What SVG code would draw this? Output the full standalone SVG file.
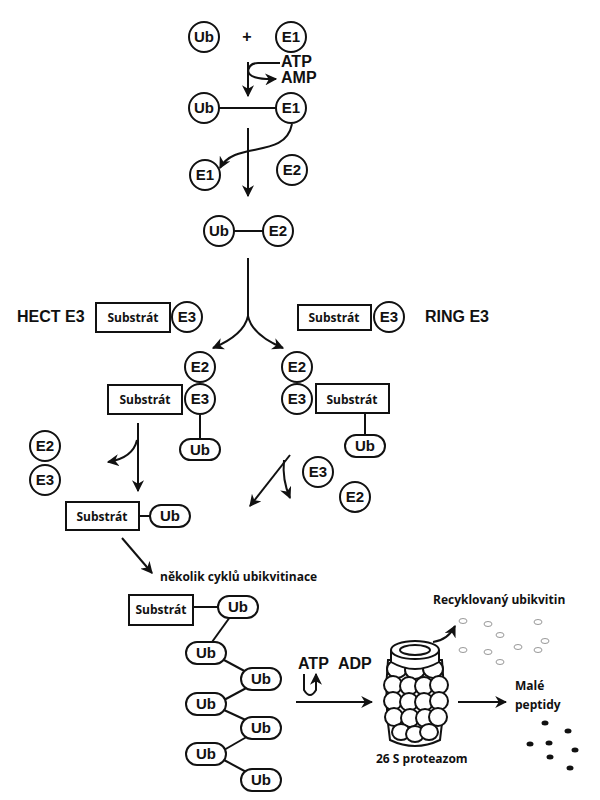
<svg xmlns="http://www.w3.org/2000/svg" width="600" height="800" viewBox="0 0 600 800">
<defs>
<marker id="ah" viewBox="0 0 10 10" refX="9" refY="5" markerWidth="6" markerHeight="6" orient="auto"><path d="M0,0 L10,5 L0,10 L3,5 Z" fill="#111"/></marker>
<style>
.c{fill:#fff;stroke:#111;stroke-width:2}
.l{fill:none;stroke:#111;stroke-width:2}
.a{fill:none;stroke:#111;stroke-width:2;marker-end:url(#ah)}
.t{font-family:"Liberation Sans",Arial,sans-serif;font-weight:bold;font-size:15px;fill:#111;text-anchor:middle}
.s{font-family:"Open Sans","Liberation Sans",sans-serif;font-weight:bold;font-size:12px;fill:#111;text-anchor:middle}
.big{font-family:"Liberation Sans",Arial,sans-serif;font-weight:bold;font-size:16px;fill:#111}
.o{font-family:"Open Sans","Liberation Sans",sans-serif;font-weight:bold;font-size:12px;fill:#111}
.e{fill:#fff;stroke:#999;stroke-width:1}
.d{fill:#111}
</style>
</defs>
<g id="connectors">
<line class="a" x1="248" y1="62" x2="248" y2="96"/>
<path class="l" d="M280,63 H258 Q248,63 248,73"/>
<path class="a" d="M248,70 Q248,80 276,79"/>
<line class="l" x1="219" y1="108" x2="276" y2="108"/>
<line class="a" x1="248" y1="128" x2="248" y2="196"/>
<path class="a" d="M292,124 C285,160 235,140 220,168"/>
<line class="l" x1="234" y1="231" x2="263" y2="231"/>
<path class="l" d="M248,258 V316"/>
<path class="a" d="M248,316 Q244,335 213,348"/>
<path class="a" d="M248,316 Q252,335 283,348"/>
<line class="l" x1="200" y1="415" x2="200" y2="439"/>
<line class="l" x1="365" y1="413" x2="365" y2="435"/>
<line class="a" x1="138" y1="423" x2="138" y2="491"/>
<path class="a" d="M137,440 Q133,458 108,462"/>
<line class="l" x1="139" y1="516" x2="150" y2="516"/>
<line class="a" x1="290" y1="455" x2="250" y2="506"/>
<path class="a" d="M284,460 Q282,480 290,498"/>
<line class="a" x1="122" y1="538" x2="152" y2="573"/>
<line class="l" x1="193" y1="607" x2="218" y2="607"/>
<line class="l" x1="230" y1="617" x2="212" y2="642"/>
<line class="l" x1="224" y1="660" x2="250" y2="674"/>
<line class="l" x1="250" y1="686" x2="224" y2="700"/>
<line class="l" x1="224" y1="710" x2="250" y2="722"/>
<line class="l" x1="250" y1="735" x2="224" y2="750"/>
<line class="l" x1="224" y1="760" x2="250" y2="774"/>
<path class="a" d="M304,674 V690 Q310,700 316,690 V674"/>
<line class="a" x1="296" y1="702" x2="372" y2="702"/>
<path class="a" d="M433,642 Q448,640 455,626"/>
<line class="a" x1="458" y1="702" x2="506" y2="702"/>
</g>
<g id="ub1"><circle class="c" cx="204" cy="37" r="15"/><text class="t" x="204" y="42">Ub</text></g>
<text class="big" x="247" y="42" text-anchor="middle" font-size="24" font-weight="normal">+</text>
<g id="e1a"><circle class="c" cx="291" cy="37" r="15"/><text class="t" x="291" y="42">E1</text></g>
<text class="big" x="281" y="67" font-size="12">ATP</text>
<text class="big" x="281" y="83" font-size="12">AMP</text>
<g id="ub2"><circle class="c" cx="204" cy="108" r="15"/><text class="t" x="204" y="113">Ub</text></g>
<g id="e1b"><circle class="c" cx="291" cy="108" r="15"/><text class="t" x="291" y="113">E1</text></g>
<g id="e1c"><circle class="c" cx="205" cy="175" r="15"/><text class="t" x="205" y="180">E1</text></g>
<g id="e2a"><circle class="c" cx="292" cy="170" r="15"/><text class="t" x="292" y="175">E2</text></g>
<g id="ub3"><circle class="c" cx="219" cy="231" r="15"/><text class="t" x="219" y="236">Ub</text></g>
<g id="e2b"><circle class="c" cx="278" cy="231" r="15"/><text class="t" x="278" y="236">E2</text></g>
<text class="big" x="17" y="322">HECT E3</text>
<g id="hect"><rect class="c" x="96" y="303" width="74" height="29"/><text class="s" x="133" y="322">Substrát</text><circle class="c" cx="187" cy="317" r="15"/><text class="t" x="187" y="322">E3</text></g>
<g id="ring"><rect class="c" x="298" y="305" width="73" height="25"/><text class="s" x="334" y="322">Substrát</text><circle class="c" cx="389" cy="317" r="15"/><text class="t" x="389" y="322">E3</text></g>
<text class="big" x="425" y="322">RING E3</text>
<g id="hectc"><circle class="c" cx="200" cy="367" r="15"/><text class="t" x="200" y="372">E2</text><rect class="c" x="108" y="385" width="74" height="29"/><text class="s" x="145" y="404">Substrát</text><circle class="c" cx="200" cy="399" r="15"/><text class="t" x="200" y="404">E3</text><rect class="c" x="180" y="439" width="40" height="21" rx="10.5"/><text class="t" x="200" y="455">Ub</text></g>
<g id="ringc"><circle class="c" cx="297" cy="367" r="15"/><text class="t" x="297" y="372">E2</text><circle class="c" cx="297" cy="399" r="15"/><text class="t" x="297" y="404">E3</text><rect class="c" x="316" y="384" width="73" height="29"/><text class="s" x="352" y="404">Substrát</text><rect class="c" x="345" y="435" width="40" height="22" rx="11"/><text class="t" x="365" y="451">Ub</text></g>
<g id="e2e3l"><circle class="c" cx="45" cy="446" r="15"/><text class="t" x="45" y="451">E2</text><circle class="c" cx="45" cy="480" r="15"/><text class="t" x="45" y="485">E3</text></g>
<g id="e3e2r"><circle class="c" cx="318" cy="472" r="15"/><text class="t" x="318" y="477">E3</text><circle class="c" cx="355" cy="497" r="15"/><text class="t" x="355" y="502">E2</text></g>
<g id="subub"><rect class="c" x="66" y="502" width="73" height="28"/><text class="s" x="102" y="521">Substrát</text><rect class="c" x="150" y="505" width="40" height="22" rx="11"/><text class="t" x="170" y="521">Ub</text></g>
<text class="o" x="160" y="581">několik cyklů ubikvitinace</text>
<g id="chain">
<rect class="c" x="129" y="595" width="64" height="30"/><text class="s" x="161" y="614">Substrát</text>
<rect class="c" x="218" y="596" width="40" height="22" rx="11"/><text class="t" x="238" y="612">Ub</text>
<rect class="c" x="186" y="642" width="40" height="22" rx="11"/><text class="t" x="206" y="658">Ub</text>
<rect class="c" x="241" y="668" width="40" height="22" rx="11"/><text class="t" x="261" y="684">Ub</text>
<rect class="c" x="186" y="693" width="40" height="22" rx="11"/><text class="t" x="206" y="709">Ub</text>
<rect class="c" x="241" y="717" width="40" height="22" rx="11"/><text class="t" x="261" y="733">Ub</text>
<rect class="c" x="186" y="743" width="40" height="22" rx="11"/><text class="t" x="206" y="759">Ub</text>
<rect class="c" x="241" y="769" width="40" height="22" rx="11"/><text class="t" x="261" y="785">Ub</text>
</g>
<text class="big" x="298" y="669" font-size="14">ATP</text>
<text class="big" x="338" y="669" font-size="14">ADP</text>
<g id="proteasome" fill="#fff" stroke="#111" stroke-width="2">
<path d="M388,660 Q384,700 390,740 Q415,752 440,740 Q446,700 442,660 Z"/>
<ellipse cx="397" cy="669" rx="10" ry="9"/><ellipse cx="415" cy="670" rx="10" ry="9"/><ellipse cx="433" cy="669" rx="10" ry="9"/>
<ellipse cx="393" cy="685" rx="9" ry="9"/><ellipse cx="409" cy="686" rx="9" ry="9"/><ellipse cx="424" cy="686" rx="9" ry="9"/><ellipse cx="439" cy="685" rx="9" ry="9"/>
<ellipse cx="393" cy="701" rx="9" ry="9"/><ellipse cx="409" cy="702" rx="9" ry="9"/><ellipse cx="424" cy="702" rx="9" ry="9"/><ellipse cx="439" cy="701" rx="9" ry="9"/>
<ellipse cx="394" cy="717" rx="9" ry="9"/><ellipse cx="410" cy="718" rx="9" ry="9"/><ellipse cx="425" cy="718" rx="9" ry="9"/><ellipse cx="438" cy="717" rx="9" ry="9"/>
<ellipse cx="401" cy="732" rx="9" ry="8"/><ellipse cx="415" cy="734" rx="9" ry="8"/><ellipse cx="429" cy="732" rx="9" ry="8"/>
<path d="M391,650 V662 Q415,676 439,662 V650"/>
<ellipse cx="415" cy="650" rx="24" ry="9"/>
<ellipse cx="415" cy="650" rx="15" ry="5"/>
</g>
<text class="o" x="433" y="604">Recyklovaný ubikvitin</text>
<g id="ubfree">
<ellipse class="e" cx="463" cy="621" rx="4" ry="2.5"/><ellipse class="e" cx="488" cy="624" rx="4" ry="2.5"/><ellipse class="e" cx="538" cy="622" rx="4" ry="2.5"/><ellipse class="e" cx="500" cy="635" rx="4" ry="2.5"/><ellipse class="e" cx="545" cy="641" rx="4" ry="2.5"/><ellipse class="e" cx="463" cy="650" rx="4" ry="2.5"/><ellipse class="e" cx="488" cy="652" rx="4" ry="2.5"/><ellipse class="e" cx="518" cy="647" rx="4" ry="2.5"/><ellipse class="e" cx="538" cy="650" rx="4" ry="2.5"/><ellipse class="e" cx="500" cy="662" rx="4" ry="2.5"/>
</g>
<text class="o" x="515" y="690" font-size="13">Malé</text>
<text class="o" x="515" y="709" font-size="13">peptidy</text>
<g id="peptides">
<ellipse class="d" cx="545" cy="723" rx="3.5" ry="2.5"/><ellipse class="d" cx="568" cy="731" rx="3.5" ry="2.5"/><ellipse class="d" cx="530" cy="744" rx="3.5" ry="2.5"/><ellipse class="d" cx="549" cy="743" rx="3.5" ry="2.5"/><ellipse class="d" cx="575" cy="750" rx="3.5" ry="2.5"/><ellipse class="d" cx="550" cy="757" rx="3.5" ry="2.5"/><ellipse class="d" cx="570" cy="768" rx="3.5" ry="2.5"/>
</g>
<text class="o" x="376" y="763" font-size="13">26 S proteazom</text>
</svg>
